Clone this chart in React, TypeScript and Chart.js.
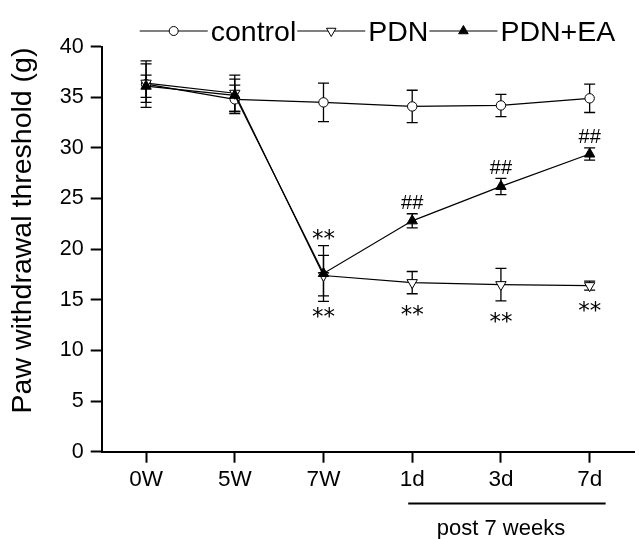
import { useEffect, useRef } from 'react';
import { Chart, registerables } from 'chart.js';

Chart.register(...registerables);

const categories = ['0W', '5W', '7W', '1d', '3d', '7d'];
const controlMean = [36.3, 34.8, 34.5, 34.1, 34.2, 34.9];
const controlErr = [2.3, 1.4, 1.9, 1.6, 1.1, 1.4];
const pdnMean = [36.4, 35.4, 17.4, 16.7, 16.5, 16.4];
const pdnErr = [1.9, 1.8, 2.0, 1.1, 1.6, 0.45];
const pdnEaMean = [36.1, 35.2, 17.6, 22.8, 26.2, 29.4];
const pdnEaErr = [1.1, 1.6, 2.75, 0.7, 0.8, 0.6];

const starsBelowPdn = ['', '', '**', '**', '**', '**'];
const starsAbovePdnEa = ['', '', '**', '', '', ''];
const hashAbovePdnEa = ['', '', '', '##', '##', '##'];

const legendLabels = ['control', 'PDN', 'PDN+EA'];
const yTitle = 'Paw withdrawal threshold (g)';
const bracketLabel = 'post 7 weeks';
const bracketFrom = 3;
const bracketTo = 5;

const FONT = '"Liberation Sans", Arial, Helvetica, sans-serif';
const STAR_FONT = '"DejaVu Sans", sans-serif';

type Style = 'circle' | 'triDown' | 'triUp';

function drawMarker(ctx: CanvasRenderingContext2D, style: Style, x: number, y: number, r: number) {
  ctx.save();
  ctx.lineWidth = 1;
  ctx.strokeStyle = '#000';
  ctx.beginPath();
  if (style === 'circle') {
    ctx.arc(x, y, r, 0, Math.PI * 2);
    ctx.fillStyle = '#fff';
  } else {
    let rad = style === 'triDown' ? Math.PI : 0;
    for (let k = 0; k < 3; k++) {
      const px = x + Math.sin(rad) * r;
      const py = y - Math.cos(rad) * r;
      if (k === 0) ctx.moveTo(px, py);
      else ctx.lineTo(px, py);
      rad += (2 * Math.PI) / 3;
    }
    ctx.closePath();
    ctx.fillStyle = style === 'triUp' ? '#000' : '#fff';
  }
  ctx.fill();
  ctx.stroke();
  ctx.restore();
}

export default function App() {
  const ref = useRef<HTMLCanvasElement>(null);

  useEffect(() => {
    if (!ref.current) return;
    const means = [controlMean, pdnMean, pdnEaMean];
    const errs = [controlErr, pdnErr, pdnEaErr];
    const styles: Style[] = ['circle', 'triDown', 'triUp'];

    const errorBars = {
      id: 'errorBars',
      beforeDatasetsDraw(chart: any) {
        const { ctx, scales } = chart;
        const x = scales.x;
        const y = scales.y;
        ctx.save();
        ctx.strokeStyle = '#000';
        ctx.lineWidth = 1.3;
        means.forEach((m, si) => {
          m.forEach((v, i) => {
            const px = x.getPixelForValue(i);
            const top = y.getPixelForValue(v + errs[si][i]);
            const bot = y.getPixelForValue(v - errs[si][i]);
            ctx.beginPath();
            ctx.moveTo(px, top);
            ctx.lineTo(px, bot);
            ctx.moveTo(px - 5.5, top);
            ctx.lineTo(px + 5.5, top);
            ctx.moveTo(px - 5.5, bot);
            ctx.lineTo(px + 5.5, bot);
            ctx.stroke();
          });
        });
        ctx.restore();
      },
    };

    const extras = {
      id: 'extras',
      afterDraw(chart: any) {
        const { ctx, scales, chartArea } = chart;
        const x = scales.x;
        const y = scales.y;
        ctx.save();
        ctx.fillStyle = '#000';
        ctx.strokeStyle = '#000';

        // significance marks
        ctx.textAlign = 'center';
        ctx.textBaseline = 'alphabetic';
        const sz = 23;
        ctx.font = `${sz}px ${STAR_FONT}`;
        starsBelowPdn.forEach((s, i) => {
          if (!s) return;
          const cap = y.getPixelForValue(pdnMean[i] - pdnErr[i]);
          const cy = cap + 14;
          ctx.fillText(s, x.getPixelForValue(i), cy + 0.6 * sz);
        });
        starsAbovePdnEa.forEach((s, i) => {
          if (!s) return;
          const cap = y.getPixelForValue(Math.max(pdnEaMean[i] + pdnEaErr[i], pdnMean[i] + pdnErr[i]));
          const cy = cap - 13;
          ctx.fillText(s, x.getPixelForValue(i), cy + 0.6 * sz);
        });
        const hs = 20;
        ctx.font = `${hs}px ${FONT}`;
        hashAbovePdnEa.forEach((s, i) => {
          if (!s) return;
          const cap = y.getPixelForValue(pdnEaMean[i] + pdnEaErr[i]);
          const cy = cap - 12;
          ctx.fillText(s, x.getPixelForValue(i), cy + 0.36 * hs);
        });

        // legend
        ctx.font = `28.5px ${FONT}`;
        ctx.textAlign = 'left';
        ctx.textBaseline = 'alphabetic';
        let lx = chartArea.left + 38;
        const ly = 31;
        legendLabels.forEach((lab, i) => {
          const len = 68;
          ctx.lineWidth = 1.2;
          ctx.beginPath();
          ctx.moveTo(lx, ly);
          ctx.lineTo(lx + len, ly);
          ctx.stroke();
          drawMarker(ctx, styles[i], lx + len / 2, ly, styles[i] === 'circle' ? 4.5 : 5.5);
          lx += len + 3;
          ctx.fillText(lab, lx, ly + 10.2);
          lx += ctx.measureText(lab).width + 1;
        });

        // y title
        ctx.save();
        ctx.font = `28.5px ${FONT}`;
        ctx.translate(31, 230.5);
        ctx.rotate(-Math.PI / 2);
        ctx.textAlign = 'center';
        ctx.textBaseline = 'alphabetic';
        ctx.fillText(yTitle, 0, 0);
        ctx.restore();

        // bracket under post-7-week days
        const bx1 = x.getPixelForValue(bracketFrom) - 4;
        const bx2 = x.getPixelForValue(bracketTo) + 16;
        ctx.lineWidth = 2;
        ctx.beginPath();
        ctx.moveTo(bx1, 503.5);
        ctx.lineTo(bx2, 503.5);
        ctx.stroke();
        ctx.font = `22px ${FONT}`;
        ctx.textAlign = 'center';
        ctx.fillText(
          bracketLabel,
          (x.getPixelForValue(bracketFrom) + x.getPixelForValue(bracketTo)) / 2,
          534.5
        );
        ctx.restore();
      },
    };

    const mk = (label: string, data: number[], style: Style, order: number) => ({
      label,
      data,
      order,
      borderColor: '#000',
      borderWidth: 1.2,
      pointStyle: style === 'circle' ? 'circle' : 'triangle',
      rotation: style === 'triDown' ? 180 : 0,
      pointRadius: style === 'circle' ? 4.7 : 6,
      pointBorderWidth: 1,
      pointBorderColor: '#000',
      pointBackgroundColor: style === 'triUp' ? '#000' : '#fff',
      fill: false,
      tension: 0,
    });

    const chart = new Chart(ref.current, {
      type: 'line',
      data: {
        labels: categories,
        datasets: [
          mk(legendLabels[0], controlMean, 'circle', 2),
          mk(legendLabels[1], pdnMean, 'triDown', 1),
          mk(legendLabels[2], pdnEaMean, 'triUp', 0),
        ] as any,
      },
      options: {
        animation: false,
        responsive: false,
        devicePixelRatio: 1,
        layout: { padding: { top: 46.7, right: 0, left: 0, bottom: 0 } },
        plugins: { legend: { display: false }, tooltip: { enabled: false }, title: { display: false } },
        scales: {
          x: {
            type: 'category',
            offset: true,
            grid: {
              offset: false,
              drawOnChartArea: false,
              drawTicks: true,
              tickLength: 11,
              tickColor: '#000',
              tickWidth: 2,
            },
            border: { display: true, color: '#000', width: 2 },
            ticks: { color: '#000', font: { family: FONT, size: 22.5 }, padding: 4, maxRotation: 0 },
            afterFit: (s: any) => {
              s.height = 87.3;
            },
          },
          y: {
            min: 0,
            max: 40,
            grid: {
              drawOnChartArea: false,
              drawTicks: true,
              tickLength: 11,
              tickColor: '#000',
              tickWidth: 2,
            },
            border: { display: true, color: '#000', width: 2 },
            ticks: { stepSize: 5, color: '#000', font: { family: FONT, size: 21.5 }, padding: 7 },
            afterFit: (s: any) => {
              s.width = 101.7;
            },
          },
        },
      } as any,
      plugins: [errorBars, extras],
    });
    return () => chart.destroy();
  }, []);

  return (
    <div style={{ position: 'fixed', left: 0, top: 0, width: 641, height: 539, background: '#fff' }}>
      <canvas ref={ref} width={641} height={539} style={{ display: 'block' }} />
    </div>
  );
}
